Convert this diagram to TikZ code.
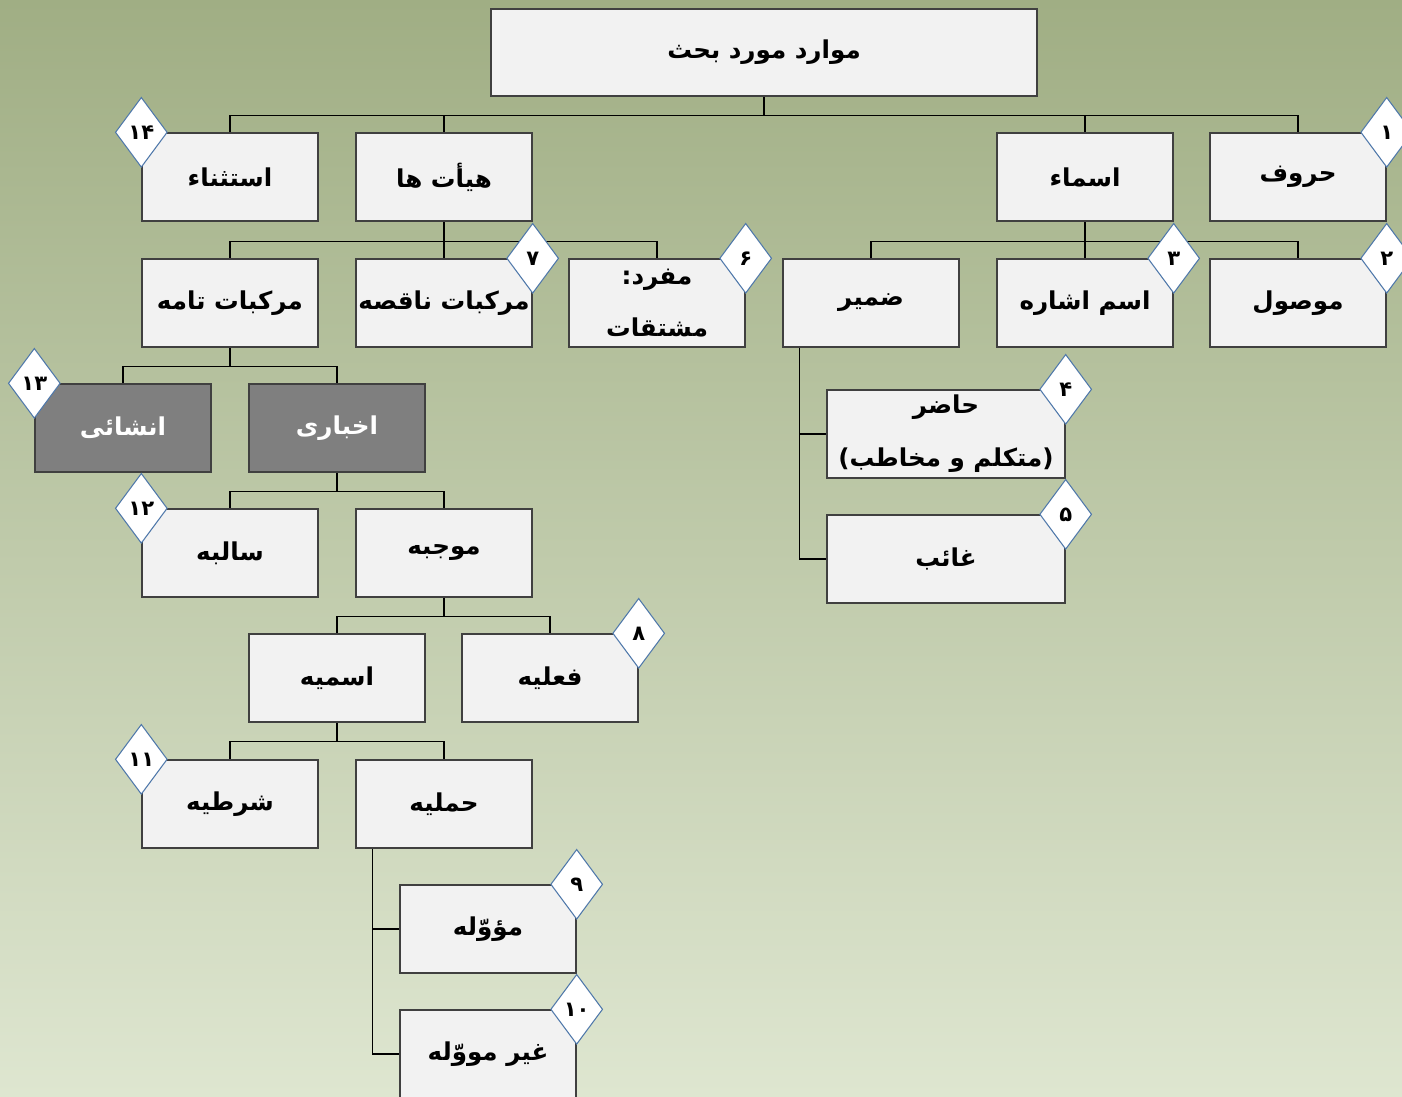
\documentclass[tikz,border=0pt]{standalone}
\usepackage{fontspec}
\newfontfamily\fa[Script=Arabic]{DejaVu Sans}
\TeXXeTstate=1
\usetikzlibrary{shapes.geometric}
\definecolor{bgtop}{RGB}{160,174,132}
\definecolor{bgbot}{RGB}{222,230,208}
\definecolor{boxfill}{RGB}{242,242,242}
\definecolor{darkfill}{RGB}{127,127,127}
\definecolor{numline}{RGB}{79,120,170}
\pgfdeclarelayer{bg}
\pgfdeclarelayer{lines}
\pgfsetlayers{bg,lines,main}
\newcommand{\rtltext}[1]{\beginR #1\endR}
\begin{document}
\begin{tikzpicture}[x=0.02cm,y=-0.02cm,
	box/.style={draw=black!75,fill=boxfill,line width=0.8pt,minimum width=3.52cm,minimum height=1.76cm,inner sep=0pt,align=center,font=\fa\bfseries\fontsize{14}{30}\selectfont},
	darkbox/.style={box,fill=darkfill,text=white},
	num/.style={diamond,draw=numline,fill=white,line width=0.6pt,aspect=0.74,minimum width=1.04cm,minimum height=1.4cm,inner sep=0pt,font=\fa\bfseries\fontsize{12}{12}\selectfont},
	tree/.style={line width=0.7pt}]

	\useasboundingbox (0,0) rectangle (1402,1096);
	\begin{pgfonlayer}{bg}
	\fill[top color=bgtop,bottom color=bgbot] (0,0) rectangle (1402,1096);
	\end{pgfonlayer}

	% gyoker
	\node[box,minimum width=10.92cm,minimum height=1.74cm] (root) at (764,52.5) {\rtltext{موارد مورد بحث}};

	% elso szint
	\node[box] (estesna) at (230,177) {\rtltext{استثناء}};
	\node[box] (hayat) at (444,177) {\rtltext{هیأت ها}};
	\node[box] (asma) at (1085,177) {\rtltext{اسماء}};
	\node[box] (horuf) at (1298,177) {\rtltext{حروف}};

	% masodik szint
	\node[box] (tamme) at (230,303) {\rtltext{مرکبات تامه}};
	\node[box] (naqese) at (444,303) {\rtltext{مرکبات ناقصه}};
	\node[box] (mofrad) at (657,303) {:\rtltext{مفرد}\\\rtltext{مشتقات}};
	\node[box] (zamir) at (871,303) {\rtltext{ضمیر}};
	\node[box] (eshare) at (1085,303) {\rtltext{اسم اشاره}};
	\node[box] (mowsul) at (1298,303) {\rtltext{موصول}};

	% zamir alatt (a zarojelek tukrozve jelennek meg)
	\node[box,minimum width=4.76cm] (hazer) at (946,434) {\rtltext{حاضر}\\)\rtltext{متکلم و مخاطب}(};
	\node[box,minimum width=4.76cm] (ghaeb) at (946,559) {\rtltext{غائب}};

	% mondatok
	\node[darkbox] (enshai) at (123,428) {\rtltext{انشائی}};
	\node[darkbox] (ekhbari) at (337,428) {\rtltext{اخباری}};
	\node[box] (salebe) at (230,553) {\rtltext{سالبه}};
	\node[box] (mujabe) at (444,553) {\rtltext{موجبه}};
	\node[box] (esmiye) at (337,678) {\rtltext{اسمیه}};
	\node[box] (feliye) at (550,678) {\rtltext{فعلیه}};
	\node[box] (sharti) at (230,804) {\rtltext{شرطیه}};
	\node[box] (hamli) at (444,804) {\rtltext{حملیه}};
	\node[box] (moavvale) at (488,929) {\rtltext{مؤوّله}};
	\node[box] (gheyr) at (488,1054) {\rtltext{غیر مووّله}};

	% szamok
	\node[num] (n1) at (horuf.north east) {۱};
	\node[num] (n2) at (mowsul.north east) {۲};
	\node[num] (n3) at (eshare.north east) {۳};
	\node[num] (n4) at (hazer.north east) {۴};
	\node[num] (n5) at (ghaeb.north east) {۵};
	\node[num] (n6) at (mofrad.north east) {۶};
	\node[num] (n7) at (naqese.north east) {۷};
	\node[num] (n8) at (feliye.north east) {۸};
	\node[num] (n9) at (moavvale.north east) {۹};
	\node[num] (n10) at (gheyr.north east) {۱۰};
	\node[num] (n11) at (sharti.north west) {۱۱};
	\node[num] (n12) at (salebe.north west) {۱۲};
	\node[num] (n13) at (enshai.north west) {۱۳};
	\node[num] (n14) at (estesna.north west) {۱۴};

	% vonalak
	\begin{pgfonlayer}{lines}
	\draw[tree] (root.south) -- ++(0,19) -| (estesna.north);
	\draw[tree] (root.south) -- ++(0,19) -| (hayat.north);
	\draw[tree] (root.south) -- ++(0,19) -| (asma.north);
	\draw[tree] (root.south) -- ++(0,19) -| (horuf.north);

	\draw[tree] (hayat.south) -- ++(0,20) -| (tamme.north);
	\draw[tree] (hayat.south) -- ++(0,20) -| (naqese.north);
	\draw[tree] (hayat.south) -- ++(0,20) -| (mofrad.north);
	\draw[tree] (asma.south) -- ++(0,20) -| (zamir.north);
	\draw[tree] (asma.south) -- ++(0,20) -| (eshare.north);
	\draw[tree] (asma.south) -- ++(0,20) -| (mowsul.north);

	\draw[tree] (zamir.south west) ++(17,0) |- (hazer.west);
	\draw[tree] (zamir.south west) ++(17,0) |- (ghaeb.west);

	\draw[tree] (tamme.south) -- ++(0,19) -| (enshai.north);
	\draw[tree] (tamme.south) -- ++(0,19) -| (ekhbari.north);
	\draw[tree] (ekhbari.south) -- ++(0,19) -| (salebe.north);
	\draw[tree] (ekhbari.south) -- ++(0,19) -| (mujabe.north);
	\draw[tree] (mujabe.south) -- ++(0,19) -| (esmiye.north);
	\draw[tree] (mujabe.south) -- ++(0,19) -| (feliye.north);
	\draw[tree] (esmiye.south) -- ++(0,19) -| (sharti.north);
	\draw[tree] (esmiye.south) -- ++(0,19) -| (hamli.north);

	\draw[tree] (hamli.south west) ++(17,0) |- (moavvale.west);
	\draw[tree] (hamli.south west) ++(17,0) |- (gheyr.west);
	\end{pgfonlayer}

\end{tikzpicture}
\end{document}
